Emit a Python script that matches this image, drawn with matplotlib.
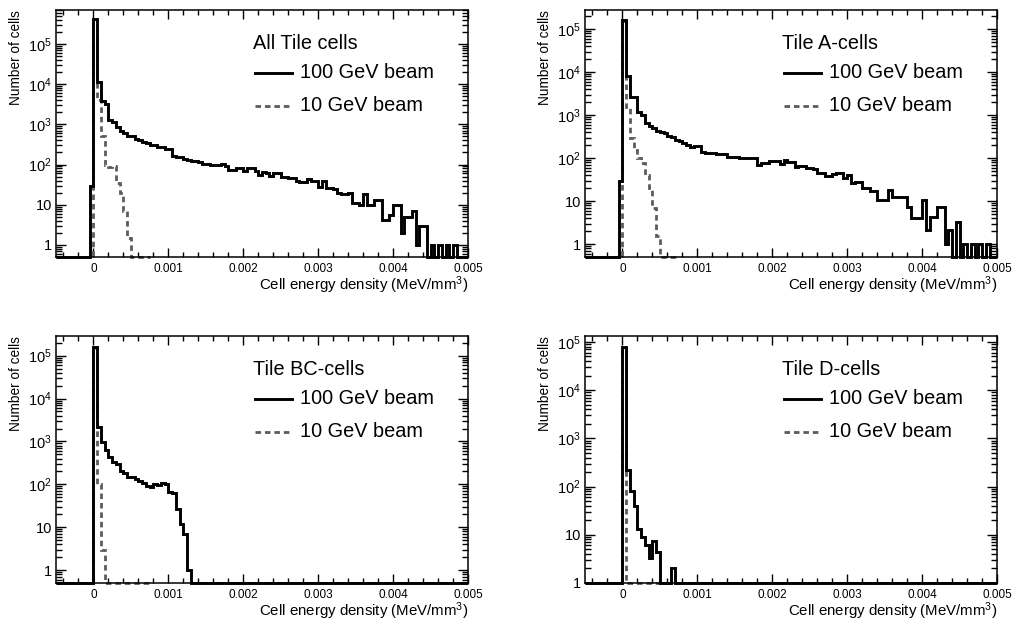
import numpy as np
import matplotlib
matplotlib.use("Agg")
import matplotlib.pyplot as plt
from matplotlib.ticker import FixedLocator, FuncFormatter, LogLocator, NullFormatter, MultipleLocator

plt.rcParams['font.family'] = ['Liberation Sans', 'DejaVu Sans']
plt.rcParams['mathtext.fontset'] = 'custom'
plt.rcParams['mathtext.rm'] = 'Liberation Sans'
plt.rcParams['mathtext.it'] = 'Liberation Sans:italic'

# binning: 110 bins of 0.00005 from -0.0005 to 0.005 (10 GeV histogram stops at 0.00075)
x_min, x_max, n_bins = -0.0005, 0.005, 110
n_bins_10 = 25

titles = ['All Tile cells', 'Tile A-cells', 'Tile BC-cells', 'Tile D-cells']

# 100 GeV beam, counts per bin
all_100 = [0, 0, 0, 0, 0, 0, 0, 0, 0, 30,
           420000, 11000, 3800, 3200, 1300, 1150, 850, 700, 620, 520,
           500, 440, 400, 360, 340, 310, 300, 280, 270, 250,
           250, 160, 150, 150, 140, 130, 125, 120, 115, 104,
           104, 95, 95, 95, 104, 91, 75, 75, 83, 83,
           68, 83, 83, 70, 56, 65, 60, 52, 60, 60,
           49, 49, 45, 45, 38, 36, 36, 43, 38, 38,
           28, 38, 26, 26, 25, 20, 18, 18, 20, 11,
           11, 10, 18, 10, 10, 13, 13, 4.2, 4.2, 5.6,
           10, 10, 2, 5, 5, 7, 1, 3, 3, 0,
           1, 0, 1, 0, 1, 0, 1, 0, 0, 0]
a_100 = [0, 0, 0, 0, 0, 0, 0, 0, 0, 30,
         160000, 8000, 2600, 2600, 1200, 1000, 640, 560, 510, 433,
         400, 376, 324, 313, 263, 250, 227, 200, 183, 190,
         190, 140, 133, 133, 133, 121, 121, 121, 107, 107,
         107, 98, 98, 98, 98, 98, 69, 78, 78, 86,
         86, 86, 72, 90, 82, 82, 63, 66, 66, 60,
         60, 55, 46, 46, 39, 39, 42, 46, 46, 34,
         40, 26, 28, 28, 20, 20, 17, 17, 10.5, 10.5,
         10.5, 18, 12.6, 12.6, 12.6, 12.6, 7.4, 4, 4, 4,
         10.5, 2.1, 4.3, 4.3, 7.3, 7.3, 1, 2.1, 0, 3.3,
         0, 1, 0, 1, 0, 1, 0, 1, 0, 0]
bc_100 = [0, 0, 0, 0, 0, 0, 0, 0, 0, 0,
          160000, 2200, 960, 620, 430, 330, 300, 210, 180, 150,
          148, 130, 120, 110, 90, 88, 104, 95, 110, 100,
          65, 63, 27, 12, 7, 1, 0, 0, 0, 0] + [0] * 70
d_100 = [0, 0, 0, 0, 0, 0, 0, 0, 0, 0,
         78000, 225, 80, 39, 13, 9, 6.2, 3.3, 7.6, 4.3,
         0, 0, 0, 2, 0, 0, 0, 0, 0, 0] + [0] * 80

# 10 GeV beam, counts per bin
all_10 = [0] * 10 + [300000, 4000, 500, 100, 85, 90, 35, 20, 7, 1.5] + [0] * 5
a_10 = [0] * 10 + [150000, 1500, 300, 150, 100, 75, 40, 20, 7, 1.5] + [0] * 5
bc_10 = [0] * 10 + [150000, 100, 3, 0, 0, 0, 0, 0, 0, 0] + [0] * 5
d_10 = [0] * 10 + [70000, 0, 0, 0, 0, 0, 0, 0, 0, 0] + [0] * 5

hist_100 = [all_100, a_100, bc_100, d_100]
hist_10 = [all_10, a_10, bc_10, d_10]
y_ranges = [(0.5, 7.0e5), (0.5, 2.77e5), (0.5, 2.88e5), (1, 1.33e5)]

x_ticks = [0, 0.001, 0.002, 0.003, 0.004, 0.005]
x_tick_labels = ['0', '0.001', '0.002', '0.003', '0.004', '0.005']

edges = np.linspace(x_min, x_max, n_bins + 1)
edges_10 = edges[:n_bins_10 + 1]

fig = plt.figure(figsize=(10.19, 6.24), dpi=100)
lefts = [56 / 1019, 585 / 1019]
bottoms = [1 - 257 / 624, 1 - 583 / 624]
w, h = 412 / 1019, 247 / 624

def ylab(v, pos):
    if v == 1:
        return '1'
    if v == 10:
        return '10'
    return r'$10^{%d}$' % round(np.log10(v))

grey = '#5c5c5c'
dash = (0, (2.0, 1.4))

for k in range(4):
    ax = fig.add_axes([lefts[k % 2], bottoms[k // 2], w, h])
    y0, y1 = y_ranges[k]
    v100 = np.maximum(np.array(hist_100[k], dtype=float), y0)
    v10 = np.maximum(np.array(hist_10[k], dtype=float), y0)
    assert len(v100) == n_bins and len(v10) == n_bins_10

    s10 = ax.stairs(v10, edges_10, baseline=None, color=grey, lw=2.0, clip_on=False, zorder=2)
    s10.set_linestyle(dash)
    ax.stairs(v100, edges, baseline=None, color='black', lw=2.1, clip_on=False, zorder=3)

    ax.set_yscale('log')
    ax.set_xlim(x_min, x_max)
    ax.set_ylim(y0, y1)

    ax.yaxis.set_major_locator(FixedLocator([1, 10, 1e2, 1e3, 1e4, 1e5]))
    ax.yaxis.set_major_formatter(FuncFormatter(ylab))
    ax.yaxis.set_minor_locator(LogLocator(base=10, subs=np.arange(2, 10), numticks=20))
    ax.yaxis.set_minor_formatter(NullFormatter())
    ax.set_xticks(x_ticks)
    ax.set_xticklabels(x_tick_labels)
    ax.xaxis.set_minor_locator(MultipleLocator(0.0002))

    ax.tick_params(which='both', direction='in', top=True, right=True, width=1.0)
    ax.tick_params(axis='y', which='major', length=7.5, labelsize=10.5, pad=3)
    ax.tick_params(axis='y', which='minor', length=4.0)
    ax.tick_params(axis='x', which='major', length=6.5, labelsize=8.5, pad=4)
    ax.tick_params(axis='x', which='minor', length=3.6)
    for sp in ax.spines.values():
        sp.set_linewidth(1.1)

    ax.set_xlabel(r'Cell energy density (MeV/mm$^{3}$)', fontsize=10.8, loc='right')
    ax.xaxis.set_label_coords(1.0, -0.072)
    ax.set_ylabel('Number of cells', fontsize=9.8, loc='top')
    ax.yaxis.set_label_coords(-0.081, 1.0)

    # legend
    ax.text(0.478, 0.865, titles[k], transform=ax.transAxes, fontsize=14.3, va='center', ha='left')
    ax.plot([0.483, 0.573], [0.745, 0.745], transform=ax.transAxes, color='black', lw=2.1)
    ax.text(0.592, 0.745, '100 GeV beam', transform=ax.transAxes, fontsize=14.3, va='center', ha='left')
    ln, = ax.plot([0.483, 0.573], [0.612, 0.612], transform=ax.transAxes, color=grey, lw=2.0)
    ln.set_linestyle(dash)
    ax.text(0.592, 0.612, '10 GeV beam', transform=ax.transAxes, fontsize=14.3, va='center', ha='left')

fig.savefig('out.png', dpi=100)
